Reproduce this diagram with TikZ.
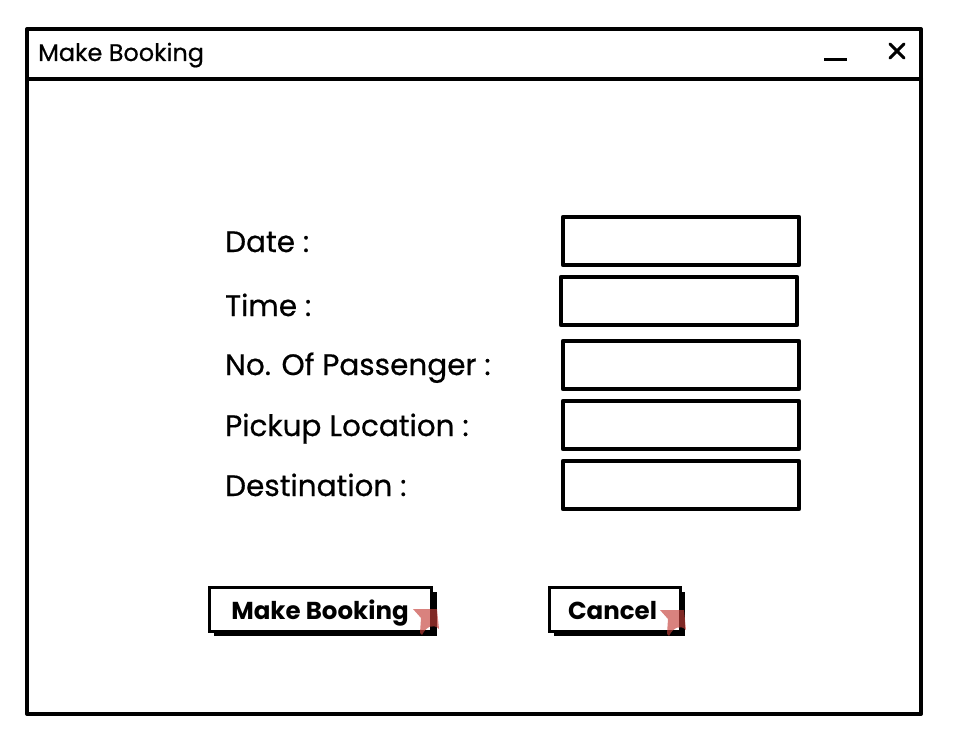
\documentclass[tikz,border=0pt]{standalone}
\usepackage{fontspec}
\usetikzlibrary{calc}
\newfontfamily\uifont{Poppins}
\newfontfamily\lblfont[FakeBold=0.5]{Poppins}
\begin{document}
\begin{tikzpicture}[x=1pt,y=-1pt,
  frame/.style={line width=4pt,line join=round,line cap=round},
  lbl/.style={anchor=base west,inner sep=0pt,font=\lblfont\fontsize{29.5}{29.5}\selectfont},
  inbox/.style={draw,line width=4.5pt,line join=round,minimum width=236pt,minimum height=48pt,inner sep=0pt},
  btn/.style={draw,fill=white,line width=3pt,inner sep=0pt},
  btntext/.style={inner sep=0pt,anchor=base,font=\uifont\bfseries\fontsize{24.5}{24.5}\selectfont},
  cursor/.style={fill={rgb,255:red,197;green,63;blue,57},fill opacity=0.65,draw=none}]
\useasboundingbox (0,0) rectangle (964,754);
% window
\node[draw,frame,minimum width=894pt,minimum height=685pt,inner sep=0pt] (win) at (474,371.5) {};
\coordinate (tbl) at (27,79);
\coordinate (tbr) at (921,79);
\draw[frame] (tbl) -- (tbr);
\node[anchor=base west,inner sep=0pt,font=\lblfont\fontsize{24}{24}\selectfont] (title) at (38,61) {Make Booking};
\coordinate (minl) at (824,60);
\coordinate (minr) at (847,60);
\draw[line width=3pt] (minl) -- (minr);
\coordinate (xc) at (897,51);
\draw[line width=3pt,line cap=round] ($(xc)+(-7,-7)$) -- ($(xc)+(7,7)$) ($(xc)+(7,-7)$) -- ($(xc)+(-7,7)$);
% labels
\node[lbl] (l1) at (225,252) {Date :};
\node[lbl] (l2) at (225,316) {Time :};
\node[lbl] (l3) at (225,375) {No. Of Passenger :};
\node[lbl] (l4) at (225,436) {Pickup Location :};
\node[lbl] (l5) at (225,496) {Destination :};
% inputs
\node[inbox] (i1) at (681,241) {};
\node[inbox] (i2) at (679,301) {};
\node[inbox] (i3) at (681,365) {};
\node[inbox] (i4) at (681,425) {};
\node[inbox] (i5) at (681,485) {};
% buttons
\fill (214,592) rectangle (437,636);
\node[btn,minimum width=222pt,minimum height=44pt] (b1) at (320,609) {};
\node[btntext] (t1) at (320,619) {Make Booking};
\fill (554,592) rectangle (685,636);
\node[btn,minimum width=131pt,minimum height=44pt] (b2) at (614.5,609) {};
\node[btntext] (t2) at (612.5,619) {Cancel};
% cursors
\foreach \cx/\cy in {413/609, 660/610}{
  \fill[cursor] (\cx,\cy) -- (\cx+24,\cy) -- (\cx+26,\cy+20)
     .. controls (\cx+20,\cy+14) and (\cx+13,\cy+18) .. (\cx+9,\cy+26)
     -- (\cx+7,\cy+24) -- (\cx+8,\cy+9) -- cycle;
}
\end{tikzpicture}
\end{document}
